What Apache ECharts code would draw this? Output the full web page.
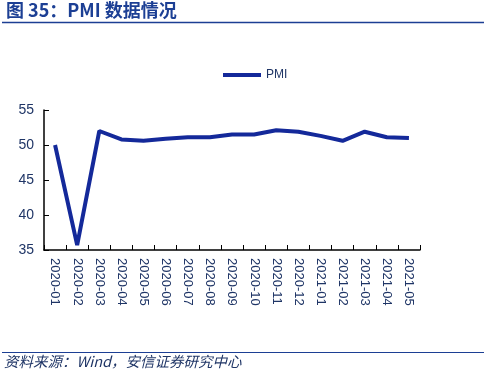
<!DOCTYPE html>
<html><head><meta charset="utf-8">
<script src="https://cdn.jsdelivr.net/npm/echarts@6/dist/echarts.min.js"></script>
<style>html,body{margin:0;padding:0;background:#fff}#c{width:488px;height:374px}</style>
</head><body><div id="c"></div>
<script>
const categories = ['2020-01','2020-02','2020-03','2020-04','2020-05','2020-06','2020-07','2020-08','2020-09','2020-10','2020-11','2020-12','2021-01','2021-02','2021-03','2021-04','2021-05'];
const pmi = [50.0,35.7,52.0,50.8,50.6,50.9,51.1,51.1,51.5,51.5,52.1,51.9,51.3,50.6,51.9,51.1,51.0];
const yTicks = {min:35, max:55, interval:5};
const textColor = '#1f3566';
const chart = echarts.init(document.getElementById('c'));
chart.setOption({
  animation:false,
  graphic:[
    {type:'text',left:6,top:1,style:{text:'图 35：PMI 数据情况',font:'bold 18px "Noto Sans CJK SC", sans-serif',fill:'#1c3f94'}},
    {type:'line',shape:{x1:2,y1:22.5,x2:484,y2:22.5},style:{stroke:'#1c3f94',lineWidth:1.5}},
    {type:'line',shape:{x1:2,y1:352.5,x2:484,y2:352.5},style:{stroke:'#1c3f94',lineWidth:1.2}},
    {type:'text',left:4,top:354,style:{text:'资料来源：Wind，安信证券研究中心',font:'italic 14.5px "Noto Sans CJK SC", sans-serif',fill:textColor}}
  ],
  legend:{top:64,left:218,itemWidth:38,itemHeight:4,itemGap:4,icon:'rect',
    textStyle:{color:textColor,fontSize:12,fontFamily:'Liberation Sans'},data:['PMI']},
  grid:{left:44,right:68,top:110,bottom:124},
  xAxis:{type:'category',data:categories,boundaryGap:true,
    axisLine:{lineStyle:{color:'#000',width:1.5}},
    axisTick:{show:true,alignWithLabel:false,length:5,inside:true,lineStyle:{color:'#000'}},
    axisLabel:{rotate:-90,color:textColor,fontSize:13,fontFamily:'Liberation Sans',margin:8,interval:0}},
  yAxis:{type:'value',min:yTicks.min,max:yTicks.max,interval:yTicks.interval,
    axisLine:{show:true,lineStyle:{color:'#000',width:1.5}},
    axisTick:{show:true,length:5,inside:true,lineStyle:{color:'#000'}},
    splitLine:{show:false},
    axisLabel:{color:textColor,fontSize:14,fontFamily:'Liberation Sans',margin:10}},
  series:[{name:'PMI',type:'line',data:pmi,symbol:'none',
    lineStyle:{color:'#14299a',width:4},itemStyle:{color:'#14299a'}}]
});
</script></body></html>
